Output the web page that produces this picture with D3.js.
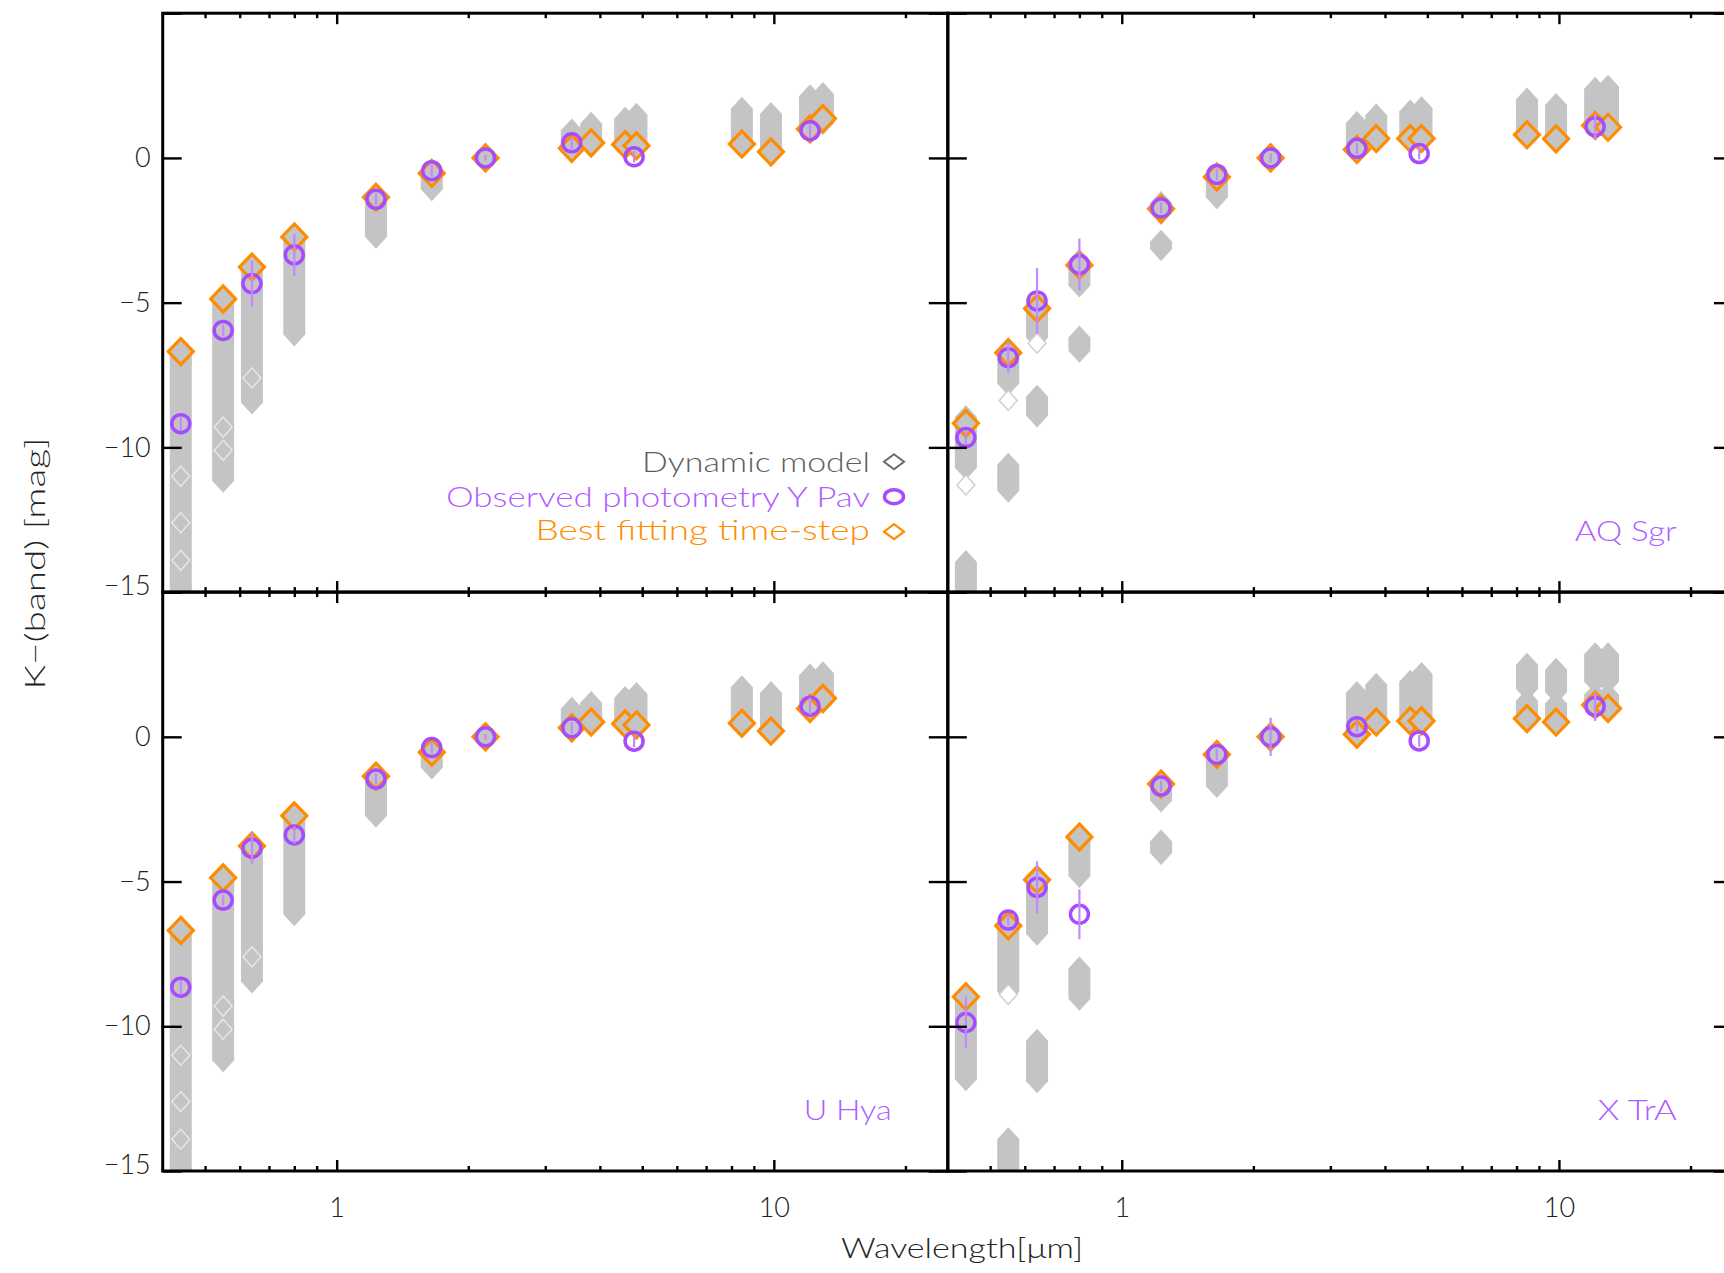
<!DOCTYPE html>
<html>
<head>
<meta charset="utf-8">
<script src="https://cdn.jsdelivr.net/npm/d3@7"></script>
<style>
  html, body { margin: 0; padding: 0; background: #fff; }
  svg { display: block; }
  text { font-family: Lato, "Open Sans", "DejaVu Sans", sans-serif; font-weight: 300; }
</style>
</head>
<body>
<svg id="chart" width="1724" height="1273"></svg>
<script>
// ---- photometric bands (central wavelength in micron) ----
const bands  = ["B", "V", "R", "I", "J", "H", "K", "L", "L'", "M1", "M2", "N1", "N2", "N3", "N4"];
const bandWl = [0.44, 0.55, 0.64, 0.80, 1.23, 1.65, 2.19, 3.45, 3.82, 4.57, 4.85, 8.45, 9.85, 12.1, 12.95];
// bands with observed photometry
const obsWl  = [0.44, 0.55, 0.64, 0.80, 1.23, 1.65, 2.19, 3.45, 4.79, 12.1];

const stars = ["Y Pav", "AQ Sgr", "U Hya", "X TrA"];

// ---- best fitting time-step, K - band [mag], one value per band ----
const bestYPav  = [-6.69, -4.87, -3.77, -2.73, -1.36, -0.53, 0, 0.33, 0.52, 0.46, 0.42, 0.48, 0.21, 1.0, 1.36];
const bestAQSgr = [-9.17, -6.73, -5.20, -3.71, -1.76, -0.66, 0, 0.29, 0.67, 0.67, 0.67, 0.80, 0.66, 1.12, 1.06];
const bestUHya  = [-6.69, -4.87, -3.77, -2.73, -1.36, -0.53, 0, 0.31, 0.51, 0.45, 0.41, 0.47, 0.20, 0.98, 1.33];
const bestXTrA  = [-8.98, -6.53, -4.94, -3.46, -1.63, -0.61, 0, 0.09, 0.51, 0.55, 0.55, 0.63, 0.51, 1.10, 0.98];

// ---- observed photometry (K - band) and 1-sigma errors, per observed band ----
const obsYPav  = [-9.18, -5.96, -4.34, -3.35, -1.43, -0.44, 0, 0.52, 0.04, 0.94];
const errYPav  = [0.25, 0.2, 0.8, 0.72, 0.2, 0.2, 0.1, 0.2, 0.2, 0.25];
const obsAQSgr = [-9.66, -6.90, -4.94, -3.68, -1.73, -0.57, 0, 0.33, 0.15, 1.08];
const errAQSgr = [0.25, 0.53, 1.13, 0.9, 0.2, 0.2, 0.15, 0.2, 0.2, 0.45];
const obsUHya  = [-8.65, -5.64, -3.85, -3.39, -1.46, -0.37, 0, 0.31, -0.15, 1.06];
const errUHya  = [0.25, 0.2, 0.55, 0.3, 0.2, 0.2, 0.1, 0.2, 0.2, 0.3];
const obsXTrA  = [-9.87, -6.33, -5.20, -6.13, -1.70, -0.61, 0, 0.35, -0.14, 1.05];
const errXTrA  = [0.9, 0.2, 0.9, 0.86, 0.2, 0.2, 0.66, 0.2, 0.2, 0.5];

// ---- dynamic model: spread of all time-steps, [low, high] segments per band ----
const modelYPav = [
  [[-15.6, -6.69]], [[-11.15, -4.87]], [[-8.45, -3.77]], [[-6.1, -2.73]], [[-2.72, -1.36]],
  [[-1.08, -0.53]], [[0, 0]], [[0.33, 0.95]], [[0.52, 1.18]], [[0.46, 1.35]], [[0.42, 1.49]],
  [[0.48, 1.70]], [[0.21, 1.52]], [[1.0, 2.13]], [[1.2, 2.21]]
];
const modelAQSgr = [
  [[-10.7, -8.95], [-15.6, -13.96]], [[-7.79, -6.62], [-11.5, -10.6]], [[-6.2, -5.0], [-8.9, -8.25]],
  [[-4.41, -3.55], [-6.66, -6.2]], [[-1.9, -1.56], [-3.15, -2.9]], [[-1.36, -0.6]], [[0, 0]],
  [[0.29, 1.21]], [[0.67, 1.47]], [[0.67, 1.6]], [[0.67, 1.72]], [[0.8, 2.02]], [[0.66, 1.83]],
  [[1.1, 2.39]], [[1.06, 2.46]]
];
const modelUHya = [
  [[-15.6, -6.69]], [[-11.17, -4.87]], [[-8.45, -3.77]], [[-6.13, -2.73]], [[-2.73, -1.36]],
  [[-1.06, -0.45]], [[0, 0]], [[0.31, 0.97]], [[0.51, 1.17]], [[0.45, 1.34]], [[0.41, 1.48]],
  [[0.47, 1.71]], [[0.2, 1.51]], [[0.98, 2.12]], [[1.2, 2.2]]
];
const modelXTrA = [
  [[-11.83, -9.0]], [[-8.8, -6.4], [-15.6, -13.9]], [[-6.8, -4.94], [-11.9, -10.5]],
  [[-4.81, -3.46], [-9.05, -8.0]], [[-2.2, -1.63], [-4.01, -3.62]], [[-1.7, -0.61]], [[0, 0]],
  [[0.09, 1.51]], [[0.51, 1.8]], [[0.55, 1.9]], [[0.55, 2.17]], [[0.63, 1.25], [1.65, 2.49]],
  [[0.51, 1.15], [1.55, 2.32]], [[1.0, 1.45], [1.9, 2.85]], [[0.98, 1.45], [1.9, 2.85]]
];
// model time-steps drawn as open symbols: [band index, value]
const hollowYPav  = [[0, -11.0], [0, -12.6], [0, -13.9], [1, -9.3], [1, -10.1], [2, -7.6]];
const hollowAQSgr = [[0, -11.3], [1, -8.38], [2, -6.4]];
const hollowUHya  = [[0, -11.0], [0, -12.6], [0, -13.9], [1, -9.3], [1, -10.1], [2, -7.6]];
const hollowXTrA  = [[1, -8.9]];

// ---- axes ----
const xDomain = [0.4, 25];
const yDomain = [-15, 5];
const xMajor = [1, 10];
const xMinor = [0.5, 0.6, 0.7, 0.8, 0.9, 2, 3, 4, 5, 6, 7, 8, 9, 20];
const yMajor = [-15, -10, -5, 0, 5];

const legendItems = ["Dynamic model", "Observed photometry Y Pav", "Best fitting time-step"];

// ---- styling / layout ----
const GREY = "#c4c4c4", ORANGE = "#ff8c00", PURPLE = "#a64cff", PURPLE_TXT = "#b05cff", ERR = "#c488ff";
const L0 = 162.7, T0 = 13.2, PW = 785.1, PH = 578.9;
const HW = 11, HH = 12;        // half size of a model diamond
const OW = 12.5, OH = 13;      // half size of best-fit diamond

const panels = [
  { star: stars[0], col: 0, row: 0, best: bestYPav,  obs: obsYPav,  err: errYPav,  model: modelYPav,  hollow: hollowYPav },
  { star: stars[1], col: 1, row: 0, best: bestAQSgr, obs: obsAQSgr, err: errAQSgr, model: modelAQSgr, hollow: hollowAQSgr },
  { star: stars[2], col: 0, row: 1, best: bestUHya,  obs: obsUHya,  err: errUHya,  model: modelUHya,  hollow: hollowUHya },
  { star: stars[3], col: 1, row: 1, best: bestXTrA,  obs: obsXTrA,  err: errXTrA,  model: modelXTrA,  hollow: hollowXTrA }
];

const svg = d3.select("#chart");
const x = d3.scaleLog().domain(xDomain).range([0, PW]);
const y = d3.scaleLinear().domain(yDomain).range([PH, 0]);
const fmt = d3.format("d");

const diamond = (cx, cy, hw, hh) => `M${cx},${cy - hh}L${cx + hw},${cy}L${cx},${cy + hh}L${cx - hw},${cy}Z`;
const column = (cx, yTop, yBot) =>
  `M${cx},${yTop - HH}L${cx + HW},${yTop}L${cx + HW},${yBot}L${cx},${yBot + HH}L${cx - HW},${yBot}L${cx - HW},${yTop}Z`;

const defs = svg.append("defs");

panels.forEach((p, i) => {
  const g = svg.append("g").attr("transform", `translate(${L0 + p.col * PW},${T0 + p.row * PH})`);
  defs.append("clipPath").attr("id", `clip${i}`)
    .append("rect").attr("x", 0).attr("y", 0).attr("width", PW).attr("height", PH);
  const plot = g.append("g").attr("clip-path", `url(#clip${i})`);

  // dynamic model spread
  const segs = [];
  p.model.forEach((list, b) => list.forEach(([lo, hi]) => segs.push({ w: bandWl[b], lo, hi })));
  plot.selectAll("path.model").data(segs).join("path")
    .attr("class", "model")
    .attr("d", d => column(x(d.w), y(d.hi), y(d.lo)))
    .attr("fill", GREY);

  // open model symbols: faint outlines inside a column, white-filled below it
  plot.selectAll("path.hollow").data(p.hollow).join("path")
    .attr("class", "hollow")
    .attr("d", d => diamond(x(bandWl[d[0]]), y(d[1]), HW - 2, HH - 2))
    .attr("fill", d => {
      const inside = p.model[d[0]].some(([lo, hi]) => d[1] >= lo && d[1] <= hi);
      return inside ? "none" : "#fff";
    })
    .attr("stroke", d => {
      const inside = p.model[d[0]].some(([lo, hi]) => d[1] >= lo && d[1] <= hi);
      return inside ? "#e6e6e6" : "#cfcfcf";
    })
    .attr("stroke-width", 1.5);

  // best fitting time-step
  plot.selectAll("path.best").data(p.best).join("path")
    .attr("class", "best")
    .attr("d", (d, b) => diamond(x(bandWl[b]), y(d), OW, OH))
    .attr("fill", GREY).attr("stroke", ORANGE).attr("stroke-width", 3.2)
    .attr("stroke-linejoin", "miter");

  // observed photometry
  const obs = p.obs.map((v, k) => ({ w: obsWl[k], v, e: p.err[k] }));
  plot.selectAll("circle.obs").data(obs).join("circle")
    .attr("class", "obs")
    .attr("cx", d => x(d.w)).attr("cy", d => y(d.v)).attr("r", 9)
    .attr("fill", "none").attr("stroke", PURPLE).attr("stroke-width", 3.5);
  plot.selectAll("line.err").data(obs).join("line")
    .attr("class", "err")
    .attr("x1", d => x(d.w)).attr("x2", d => x(d.w))
    .attr("y1", d => y(d.v + d.e)).attr("y2", d => y(d.v - d.e))
    .attr("stroke", ERR).attr("stroke-width", 2.2);

  // axes: ticks on all four sides, labels on the outer edges only
  const styleAxis = a => {
    a.select(".domain").remove();
    a.selectAll(".tick line").attr("stroke", "#000").attr("stroke-width", 2.4);
    a.selectAll("text").attr("fill", "#222").attr("font-size", 27)
      .attr("font-family", "Lato, 'Open Sans', 'DejaVu Sans', sans-serif").attr("font-weight", 300);
    a.attr("font-family", null).attr("font-size", null);
  };
  const showX = p.row === 1, showY = p.col === 0;

  g.append("g").attr("transform", `translate(0,${PH})`)
    .call(d3.axisBottom(x).tickValues(xMajor).tickSizeInner(-11).tickSizeOuter(0).tickPadding(27)
      .tickFormat(d => showX ? fmt(d) : ""))
    .call(styleAxis);
  g.append("g").attr("transform", `translate(0,${PH})`)
    .call(d3.axisBottom(x).tickValues(xMinor).tickSizeInner(-5).tickSizeOuter(0).tickFormat(() => ""))
    .call(styleAxis);
  g.append("g")
    .call(d3.axisTop(x).tickValues(xMajor).tickSizeInner(-11).tickSizeOuter(0).tickFormat(() => ""))
    .call(styleAxis);
  g.append("g")
    .call(d3.axisTop(x).tickValues(xMinor).tickSizeInner(-5).tickSizeOuter(0).tickFormat(() => ""))
    .call(styleAxis);
  const ly = g.append("g")
    .call(d3.axisLeft(y).tickValues(yMajor).tickSizeInner(-19).tickSizeOuter(0).tickPadding(12)
      .tickFormat(d => (showY && d !== 5) ? fmt(d) : ""))
    .call(styleAxis);
  ly.selectAll(".tick text").filter(d => d === -15).attr("y", -6);
  g.append("g").attr("transform", `translate(${PW},0)`)
    .call(d3.axisRight(y).tickValues(yMajor).tickSizeInner(-19).tickSizeOuter(0).tickFormat(() => ""))
    .call(styleAxis);

  // frame
  g.append("rect").attr("x", 0).attr("y", 0).attr("width", PW).attr("height", PH)
    .attr("fill", "none").attr("stroke", "#000").attr("stroke-width", 3);

  // star name (the first panel names its star inside the legend)
  if (i > 0) {
    const nameLen = { "AQ Sgr": 102, "U Hya": 88, "X TrA": 79 }[p.star];
    g.append("text").attr("x", 729).attr("y", 528.3)
      .attr("text-anchor", "end").attr("font-size", 28).attr("fill", PURPLE_TXT)
      .attr("textLength", nameLen).attr("lengthAdjust", "spacingAndGlyphs")
      .text(p.star);
  }

  // legend
  if (i === 0) {
    const lg = g.append("g");
    const lens = [228, 424, 334.5];
    const cols = ["#5e5e5e", PURPLE_TXT, ORANGE];
    const base = [458.5, 493.5, 526.8];
    legendItems.forEach((t, k) => {
      lg.append("text").attr("x", 707.3).attr("y", base[k]).attr("text-anchor", "end")
        .attr("font-size", 28).attr("fill", cols[k])
        .attr("textLength", lens[k]).attr("lengthAdjust", "spacingAndGlyphs").text(t);
    });
    const sx = 731.3;
    lg.append("path").attr("d", diamond(sx, 448.5, 10, 7.5))
      .attr("fill", "none").attr("stroke", "#6a6a6a").attr("stroke-width", 2);
    lg.append("ellipse").attr("cx", sx).attr("cy", 483.5).attr("rx", 9.5).attr("ry", 7)
      .attr("fill", "none").attr("stroke", PURPLE).attr("stroke-width", 3.5);
    lg.append("path").attr("d", diamond(sx, 518.5, 10, 7.5))
      .attr("fill", "none").attr("stroke", ORANGE).attr("stroke-width", 2.2);
  }
});

// axis titles
svg.append("text").attr("x", 962).attr("y", 1258).attr("text-anchor", "middle")
  .attr("font-size", 28).attr("fill", "#222")
  .attr("textLength", 242).attr("lengthAdjust", "spacingAndGlyphs")
  .text("Wavelength[\u03bcm]");
svg.append("text").attr("transform", "translate(45,563.5) rotate(-90)").attr("text-anchor", "middle")
  .attr("font-size", 28).attr("fill", "#222")
  .attr("textLength", 252).attr("lengthAdjust", "spacingAndGlyphs")
  .text("K\u2212(band) [mag]");
</script>
</body>
</html>
